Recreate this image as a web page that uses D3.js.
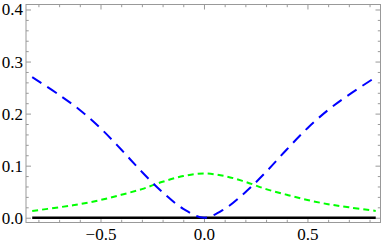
<!DOCTYPE html>
<html>
<head>
<meta charset="utf-8">
<script src="https://cdn.jsdelivr.net/npm/d3@7"></script>
<style>
  html, body { margin: 0; padding: 0; background: #fff; }
  svg { display: block; }
  .tick text { font-family: "Liberation Serif", "DejaVu Serif", serif; font-size: 17px; fill: #000; }
</style>
</head>
<body>
<svg width="382" height="245"></svg>
<script>
'use strict';

// sample positions along x
var xValues = [-0.83, -0.7, -0.6, -0.5, -0.4, -0.3, -0.2, -0.1, 0, 0.1, 0.2, 0.3, 0.4, 0.5, 0.6, 0.7, 0.83];
// long dashed blue curve
var blueValues = [0.27, 0.236, 0.207, 0.172, 0.131, 0.088, 0.049, 0.017, 0, 0.017, 0.049, 0.088, 0.131, 0.172, 0.207, 0.236, 0.27];
// short dashed green curve
var greenValues = [0.013, 0.02, 0.026, 0.034, 0.044, 0.055, 0.069, 0.08, 0.085, 0.08, 0.069, 0.055, 0.044, 0.034, 0.026, 0.02, 0.013];
// solid black baseline
var blackValues = [0, 0, 0, 0, 0, 0, 0, 0, 0, 0, 0, 0, 0, 0, 0, 0, 0];

var xMajor = [-0.5, 0, 0.5];
var xMinor = [-0.8, -0.7, -0.6, -0.4, -0.3, -0.2, -0.1, 0.1, 0.2, 0.3, 0.4, 0.6, 0.7, 0.8];
var yMajor = [0, 0.1, 0.2, 0.3, 0.4];
var yMinor = [0.02, 0.04, 0.06, 0.08, 0.12, 0.14, 0.16, 0.18, 0.22, 0.24, 0.26, 0.28, 0.32, 0.34, 0.36, 0.38];

(function() {

    var svg = d3.select('svg');
    var frameLeft = 26, frameRight = 380.5, frameTop = 4.5, frameBottom = 222.5;
    var FRAME = '#999999';

    var x = d3.scaleLinear().domain([-0.86, 0.853]).range([frameLeft, frameRight]);
    var y = d3.scaleLinear().domain([-0.0092, 0.4096]).range([frameBottom, frameTop]);

    function fmt(d) {
        return d3.format('.1f')(d).replace('-', '\u2212');
    }

    function frameAxis(axisFn, scale, major, minor, pos, labels) {
        var g = svg.append('g').attr('transform', pos);
        g.call(axisFn(scale).tickValues(major).tickSize(-5).tickSizeOuter(0)
            .tickFormat(labels ? fmt : '').tickPadding(labels ? 9 : 0));
        g.select('.domain').remove();
        g.selectAll('.tick line').attr('stroke', FRAME);
        var m = svg.append('g').attr('transform', pos);
        m.call(axisFn(scale).tickValues(minor).tickSize(-2.7).tickSizeOuter(0).tickFormat(''));
        m.select('.domain').remove();
        m.selectAll('.tick line').attr('stroke', FRAME);
        return g;
    }

    var bx = frameAxis(d3.axisBottom, x, xMajor, xMinor, 'translate(0,' + frameBottom + ')', true);
    bx.selectAll('.tick text').attr('dy', '0.71em').attr('y', 5);
    frameAxis(d3.axisTop, x, xMajor, xMinor, 'translate(0,' + frameTop + ')', false);
    var ly = frameAxis(d3.axisLeft, y, yMajor, yMinor, 'translate(' + frameLeft + ',0)', true);
    ly.selectAll('.tick text').attr('x', -3);
    frameAxis(d3.axisRight, y, yMajor, yMinor, 'translate(' + frameRight + ',0)', false);

    svg.append('rect')
        .attr('x', frameLeft).attr('y', frameTop)
        .attr('width', frameRight - frameLeft).attr('height', frameBottom - frameTop)
        .attr('fill', 'none').attr('stroke', FRAME).attr('stroke-width', 1);

    var line = function(vals) {
        return d3.line()
            .x(function(d, i) { return x(xValues[i]); })
            .y(function(d) { return y(d); })
            .curve(d3.curveCatmullRom)(vals);
    };

    svg.append('path').attr('d', line(blackValues))
        .attr('fill', 'none').attr('stroke', '#000').attr('stroke-width', 2.5);

    svg.append('path').attr('d', line(greenValues))
        .attr('fill', 'none').attr('stroke', '#00ff00').attr('stroke-width', 2)
        .attr('stroke-dasharray', '6,4');

    svg.append('path').attr('d', line(blueValues))
        .attr('fill', 'none').attr('stroke', '#0000ff').attr('stroke-width', 2)
        .attr('stroke-dasharray', '11,7');

})();
</script>
</body>
</html>
